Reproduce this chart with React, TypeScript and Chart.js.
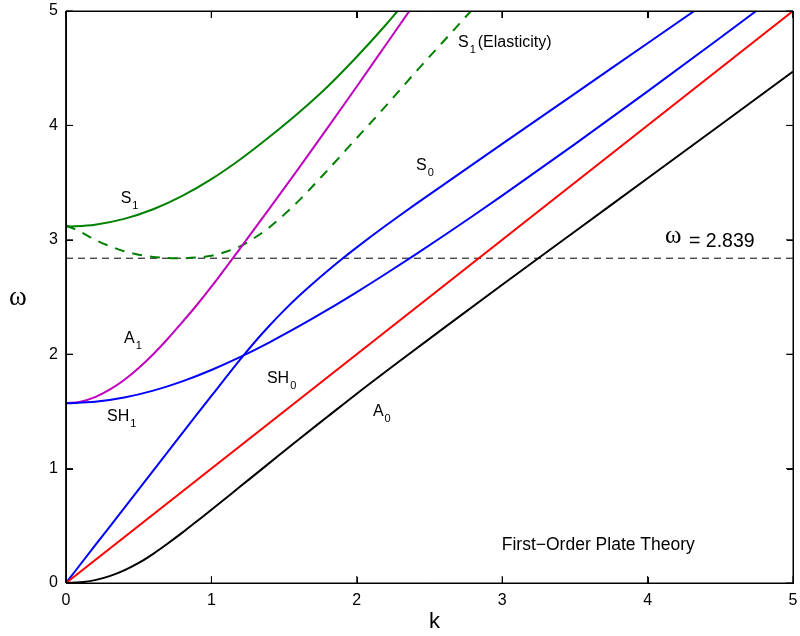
import React, { useEffect, useRef } from "react";
import { Chart, registerables } from "chart.js";

Chart.register(...registerables);

// ---- data ----
const kA0 = [0, 0.1, 0.2, 0.3, 0.4, 0.5, 0.6, 0.7, 0.8, 0.9, 1.0, 1.2, 1.4, 1.6, 1.8, 2.0, 2.3, 2.6, 3.0, 3.5, 4.0, 4.5, 5.0];
const wA0 = [0, 0.006, 0.025, 0.06, 0.11, 0.175, 0.255, 0.345, 0.44, 0.54, 0.64, 0.845, 1.05, 1.255, 1.455, 1.655, 1.945, 2.23, 2.607, 3.073, 3.538, 4.004, 4.47];

const kSH0 = [0, 5];
const wSH0 = [0, 5];

const kS0 = [0, 0.2, 0.4, 0.6, 0.8, 0.9, 1.0, 1.1, 1.2, 1.3, 1.4, 1.5, 1.6, 1.7, 1.8, 1.9, 2.0, 2.1, 2.2, 2.3, 2.4, 2.6, 2.8, 3.0, 3.5, 4.0, 4.5];
const wS0 = [0, 0.328, 0.655, 0.983, 1.31, 1.473, 1.635, 1.797, 1.957, 2.109, 2.251, 2.383, 2.506, 2.62, 2.729, 2.834, 2.934, 3.031, 3.125, 3.217, 3.307, 3.484, 3.661, 3.838, 4.278, 4.718, 5.158];

const kSH1 = [0, 0.2, 0.4, 0.6, 0.8, 1.0, 1.2, 1.4, 1.6, 1.8, 2.0, 2.2, 2.4, 2.6, 2.8, 3.0, 3.5, 4.0, 4.5, 5.0];
const wSH1 = [1.571, 1.5835, 1.621, 1.6815, 1.7628, 1.8621, 1.9767, 2.1041, 2.2422, 2.389, 2.5431, 2.7032, 2.8684, 3.0377, 3.2105, 3.3864, 3.8363, 4.2974, 4.7663, 5.241];

const kA1 = [0, 0.1, 0.2, 0.3, 0.4, 0.5, 0.6, 0.7, 0.8, 0.9, 1.0, 1.2, 1.4, 1.6, 1.8, 2.0, 2.2, 2.4];
const wA1 = [1.571, 1.585, 1.625, 1.69, 1.775, 1.88, 2.0, 2.135, 2.28, 2.43, 2.59, 2.93, 3.275, 3.625, 3.98, 4.34, 4.705, 5.07];

const kS1 = [0, 0.2, 0.4, 0.6, 0.8, 1.0, 1.2, 1.4, 1.6, 1.8, 2.0, 2.2, 2.3];
const wS1 = [3.115, 3.132, 3.183, 3.267, 3.384, 3.53, 3.704, 3.9, 4.11, 4.34, 4.6, 4.88, 5.03];

const kS1E = [0, 0.1, 0.2, 0.3, 0.4, 0.5, 0.6, 0.7, 0.8, 0.9, 1.0, 1.1, 1.2, 1.3, 1.4, 1.5, 1.6, 1.8, 2.0, 2.2, 2.4, 2.6, 2.8];
const wS1E = [3.125, 3.07, 3.0, 2.945, 2.9, 2.87, 2.85, 2.841, 2.839, 2.845, 2.86, 2.895, 2.945, 3.02, 3.11, 3.22, 3.34, 3.61, 3.89, 4.17, 4.46, 4.74, 5.02];

const kCut = [0, 5];
const wCut = [2.839, 2.839];

const xTicks = [0, 1, 2, 3, 4, 5];
const yTicks = [0, 1, 2, 3, 4, 5];

// annotation labels: anchor (k, ω) of left baseline
const curveLabels = [
  { k: 0.376, w: 3.322, main: "S", sub: "1", tail: "" },
  { k: 2.696, w: 4.685, main: "S", sub: "1", tail: "(Elasticity)" },
  { k: 2.407, w: 3.61, main: "S", sub: "0", tail: "" },
  { k: 0.399, w: 2.098, main: "A", sub: "1", tail: "" },
  { k: 0.282, w: 1.416, main: "SH", sub: "1", tail: "" },
  { k: 1.382, w: 1.748, main: "SH", sub: "0", tail: "" },
  { k: 2.111, w: 1.46, main: "A", sub: "0", tail: "" },
];
const cutoffLabel = { k: 4.12, w: 2.972, kText: 4.285, wText: 2.937, text: "= 2.839" };
const theoryLabel = { k: 2.997, w: 0.288, text: "First\u2212Order Plate Theory" };

const SANS = "'Liberation Sans', Arial, Helvetica, sans-serif";
const SERIF = "'Liberation Serif', 'Times New Roman', serif";

const X_MIN = 0, X_MAX = 5, Y_MIN = 0, Y_MAX = 5;
// inward tick length, in axis units (about 7 px)
const TICK_K = 0.048;
const TICK_W = 0.061;

function pts(ks: number[], ws: number[]) {
  return ks.map((k, i) => ({ x: k, y: ws[i] }));
}

// box outline drawn through the scales
function framePoints() {
  return [
    { x: X_MIN, y: Y_MIN }, { x: X_MAX, y: Y_MIN }, { x: X_MAX, y: Y_MAX },
    { x: X_MIN, y: Y_MAX }, { x: X_MIN, y: Y_MIN },
  ];
}
// inward tick marks on all four sides, separated by gaps
function tickPoints() {
  const out: any[] = [];
  xTicks.forEach((t) => {
    out.push({ x: t, y: Y_MIN }, { x: t, y: Y_MIN + TICK_W }, { x: t, y: null });
    out.push({ x: t, y: Y_MAX }, { x: t, y: Y_MAX - TICK_W }, { x: t, y: null });
  });
  yTicks.forEach((t) => {
    out.push({ x: X_MIN, y: t }, { x: X_MIN + TICK_K, y: t }, { x: X_MIN + TICK_K, y: null });
    out.push({ x: X_MAX, y: t }, { x: X_MAX - TICK_K, y: t }, { x: X_MAX - TICK_K, y: null });
  });
  return out;
}

const labelPlugin = {
  id: "curveText",
  afterDraw(chart: any) {
    const { ctx, chartArea: a } = chart;
    const xs = chart.scales.x;
    const ys = chart.scales.y;
    ctx.save();
    ctx.fillStyle = "#000";
    ctx.textBaseline = "alphabetic";
    ctx.textAlign = "left";
    for (const l of curveLabels) {
      let x = xs.getPixelForValue(l.k);
      const y = ys.getPixelForValue(l.w);
      ctx.font = `16px ${SANS}`;
      ctx.fillText(l.main, x, y);
      x += ctx.measureText(l.main).width + 1;
      ctx.font = `11px ${SANS}`;
      ctx.fillText(l.sub, x, y + 6);
      x += ctx.measureText(l.sub).width + 2;
      if (l.tail) {
        ctx.font = `16px ${SANS}`;
        ctx.fillText(l.tail, x, y);
      }
    }
    ctx.font = `25px ${SERIF}`;
    ctx.fillText("\u03c9", xs.getPixelForValue(cutoffLabel.k), ys.getPixelForValue(cutoffLabel.w));
    ctx.font = `19.5px ${SANS}`;
    ctx.fillText(cutoffLabel.text, xs.getPixelForValue(cutoffLabel.kText), ys.getPixelForValue(cutoffLabel.wText));
    ctx.font = `17.5px ${SANS}`;
    ctx.fillText(theoryLabel.text, xs.getPixelForValue(theoryLabel.k), ys.getPixelForValue(theoryLabel.w));
    ctx.font = `22px ${SANS}`;
    ctx.textAlign = "center";
    ctx.fillText("k", (a.left + a.right) / 2 + 5, a.bottom + 45);
    ctx.font = `27px ${SERIF}`;
    ctx.textAlign = "left";
    ctx.fillText("\u03c9", ys.left + 9, (a.top + a.bottom) / 2 + 8);
    ctx.restore();
  },
};

const framePlugin = {
  id: "boxFrame",
  afterDraw(chart: any) {
    const { ctx, chartArea: a } = chart;
    ctx.save();
    ctx.fillStyle = "#000";
    const L = Math.round(a.left);
    const R = Math.round(a.right);
    const T = Math.round(a.top);
    const B = Math.round(a.bottom);
    ctx.fillRect(L, T, R - L + 1, 1);
    ctx.fillRect(L, B, R - L + 1, 1);
    ctx.fillRect(L, T, 1, B - T + 1);
    ctx.fillRect(R, T, 1, B - T + 1);
    const xs = chart.scales.x;
    const ys = chart.scales.y;
    const tl = 7;
    for (const t of xTicks) {
      const px = Math.round(xs.getPixelForValue(t));
      ctx.fillRect(px, B - tl + 1, 1, tl);
      ctx.fillRect(px, T, 1, tl);
    }
    for (const t of yTicks) {
      const py = Math.round(ys.getPixelForValue(t));
      ctx.fillRect(L, py, tl, 1);
      ctx.fillRect(R - tl + 1, py, tl, 1);
    }
    ctx.restore();
  },
};

export default function App() {
  const ref = useRef<HTMLCanvasElement | null>(null);
  useEffect(() => {
    if (!ref.current) return;
    const line = (data: any, color: string, extra: any = {}) => ({
      data,
      borderColor: color,
      borderWidth: 2,
      pointRadius: 0,
      fill: false,
      cubicInterpolationMode: "monotone",
      ...extra,
    });
    const chart = new Chart(ref.current, {
      type: "line",
      data: {
        datasets: [
          { data: framePoints(), borderColor: "#000", borderWidth: 1, pointRadius: 0, fill: false, tension: 0, clip: 3 },
          { data: tickPoints(), borderColor: "#000", borderWidth: 1, pointRadius: 0, fill: false, tension: 0, spanGaps: false, clip: 3 },
          line(pts(kA0, wA0), "#000000"),
          line(pts(kSH0, wSH0), "#ff0000"),
          line(pts(kS0, wS0), "#0000ff"),
          line(pts(kSH1, wSH1), "#0000ff"),
          line(pts(kA1, wA1), "#bf00bf"),
          line(pts(kS1, wS1), "#008000"),
          line(pts(kS1E, wS1E), "#008000", { borderDash: [10, 8] }),
          line(pts(kCut, wCut), "#000000", { borderWidth: 1, borderDash: [7, 5] }),
        ],
      },
      options: {
        animation: false,
        responsive: false,
        layout: { padding: { top: 11, right: 7, left: 0, bottom: 0 } },
        plugins: { legend: { display: false }, tooltip: { enabled: false } },
        scales: {
          x: {
            type: "linear",
            min: X_MIN,
            max: X_MAX,
            grid: { display: false, drawTicks: false },
            border: { display: true, color: "#000", width: 1 },
            afterBuildTicks: (s: any) => { s.ticks = xTicks.map((v) => ({ value: v })); },
            afterFit: (s: any) => {
              s.height = 53;
              s.paddingLeft = 0; s.paddingRight = 0; s.paddingTop = 0; s.paddingBottom = 0;
            },
            ticks: { color: "#000", padding: 8, font: { family: SANS, size: 16 }, maxRotation: 0 },
          },
          y: {
            type: "linear",
            min: Y_MIN,
            max: Y_MAX,
            grid: { display: false, drawTicks: false },
            border: { display: true, color: "#000", width: 1 },
            afterBuildTicks: (s: any) => { s.ticks = yTicks.map((v) => ({ value: v })); },
            afterFit: (s: any) => {
              s.width = 66;
              s.paddingLeft = 0; s.paddingRight = 0; s.paddingTop = 0; s.paddingBottom = 0;
            },
            ticks: { color: "#000", padding: 8, font: { family: SANS, size: 16 } },
          },
        },
      } as any,
      plugins: [labelPlugin, framePlugin],
    });
    return () => chart.destroy();
  }, []);
  return (
    <div style={{ position: "absolute", left: 0, top: 0, width: 800, height: 636, background: "#fff" }}>
      <canvas ref={ref} width={800} height={636} />
    </div>
  );
}
